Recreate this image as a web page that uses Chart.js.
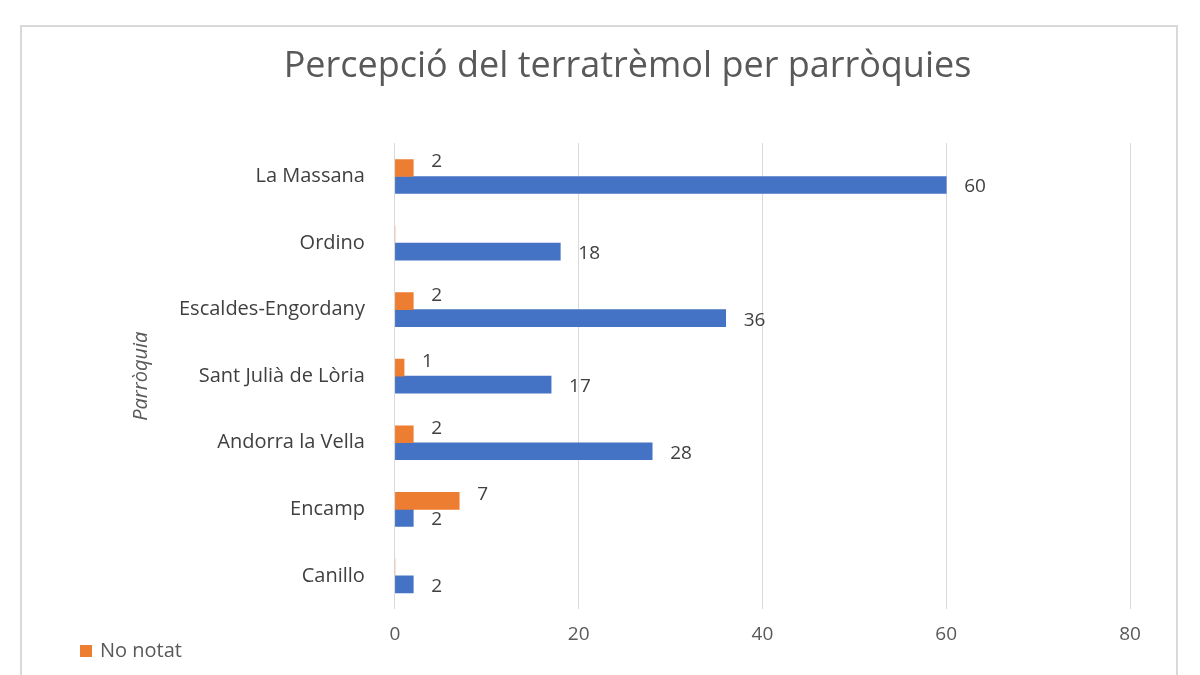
<!DOCTYPE html>
<html><head><meta charset="utf-8">
<script src="https://cdn.jsdelivr.net/npm/chart.js@4"></script>
<style>
html,body{margin:0;padding:0;background:#fff;}
#wrap{position:relative;width:1200px;height:675px;overflow:hidden;}
#box{position:absolute;left:20px;top:25px;width:1158px;height:700px;border:2px solid #d9d9d9;box-sizing:border-box;}
#leg{position:absolute;left:80px;top:636px;font:20px "Open Sans",sans-serif;color:#595959;}
#leg span{display:inline-block;width:12px;height:12px;background:#ed7d31;margin-right:8px;}
</style></head><body>
<div id="wrap"><div id="box"></div><canvas id="c" width="1200" height="675"></canvas>
<div id="leg"><span></span>No notat</div></div>
<script>
const categories=["La Massana","Ordino","Escaldes-Engordany","Sant Julià de Lòria","Andorra la Vella","Encamp","Canillo"];
const noNotat=[2,0,2,1,2,7,0];
const notat=[60,18,36,17,28,2,2];
const xTicks=[0,20,40,60,80];
const labelPlugin={id:'lbl',afterDatasetsDraw(ch){const ctx=ch.ctx;ctx.save();ctx.font='19px "Open Sans",sans-serif';ctx.fillStyle='#404040';ctx.textBaseline='middle';
ch.data.datasets.forEach((ds,i)=>{ch.getDatasetMeta(i).data.forEach((b,j)=>{const v=ds.data[j];if(!v)return;ctx.fillText(String(v),b.x+18,b.y+(i===0?-6:2));});});ctx.restore();}};
new Chart(document.getElementById('c'),{type:'bar',
data:{labels:categories,datasets:[
{label:'No notat',data:noNotat,backgroundColor:'#ed7d31',barThickness:17},
{label:'Notat',data:notat,backgroundColor:'#4472c4',barThickness:17}]},
options:{indexAxis:'y',responsive:false,animation:false,
layout:{padding:{left:125,right:70,top:10,bottom:15}},
plugins:{legend:{display:false},tooltip:{enabled:false},
title:{display:true,text:'Percepció del terratrèmol per parròquies',color:'#595959',font:{family:'Open Sans',size:36,weight:'normal'},padding:{top:35,bottom:55}}},
scales:{x:{min:0,max:80,afterBuildTicks(a){a.ticks=xTicks.map(v=>({value:v}));},
grid:{color:'#d9d9d9',drawTicks:false},border:{display:false},
ticks:{color:'#595959',font:{family:'Open Sans',size:19},padding:14}},
y:{grid:{display:false},border:{display:false},
ticks:{color:'#404040',font:{family:'Open Sans',size:20},padding:22},
title:{display:true,text:'Parròquia',color:'#595959',font:{family:'Open Sans',size:20,style:'italic'}}}}},
plugins:[labelPlugin]});
</script></body></html>
